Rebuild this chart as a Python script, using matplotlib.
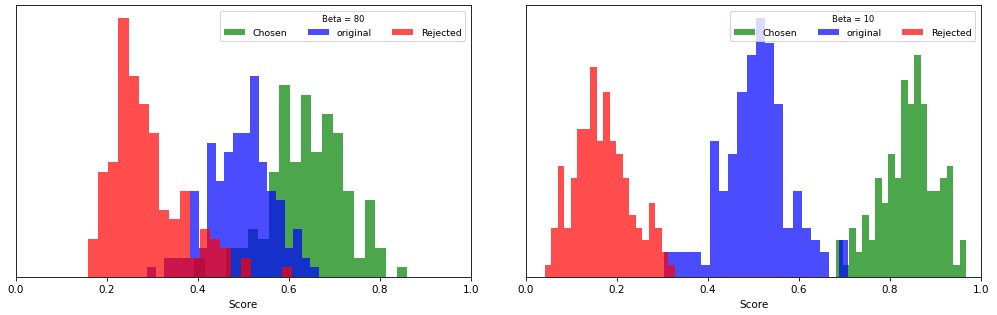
import numpy as np
import matplotlib
matplotlib.use('Agg')
import matplotlib.pyplot as plt

# counts per bin (20 bins per series)
betas = [80, 10]
labels = ['Chosen', 'original', 'Rejected']
colors = ['g', 'b', 'r']

# beta = 80
chosen_80 = [2, 0, 0, 3, 3, 5, 4, 11, 20, 12, 19, 13, 17, 15, 9, 2, 8, 3, 0, 1]
original_80 = [1, 0, 2, 2, 2, 9, 3, 14, 10, 13, 15, 15, 21, 12, 9, 8, 3, 5, 2, 1]
rejected_80 = [4, 11, 12, 27, 21, 18, 15, 7, 6, 9, 2, 5, 4, 3, 0, 2, 0, 0, 0, 1]
range_80 = [(0.392, 0.860), (0.288, 0.666), (0.158, 0.606)]

# beta = 10
chosen_10 = [3, 1, 4, 2, 5, 3, 8, 6, 10, 8, 16, 14, 18, 14, 7, 7, 8, 9, 1, 3]
original_10 = [2, 2, 2, 2, 1, 11, 7, 10, 15, 18, 21, 19, 14, 4, 7, 4, 3, 2, 0, 3]
rejected_10 = [1, 4, 9, 4, 8, 12, 12, 17, 11, 15, 11, 10, 8, 5, 4, 3, 6, 4, 2, 1]
range_10 = [(0.682, 0.967), (0.303, 0.707), (0.041, 0.327)]

panels = [
    ([chosen_80, original_80, rejected_80], range_80),
    ([chosen_10, original_10, rejected_10], range_10),
]

fig, axes = plt.subplots(1, 2, figsize=(997 / 75, 316 / 75), dpi=75)
fig.subplots_adjust(left=0.016, right=0.984, top=0.981, bottom=0.120, wspace=0.121)

for ax, beta, (series, ranges) in zip(axes, betas, panels):
    for counts, (lo, hi), lab, col in zip(series, ranges, labels, colors):
        edges = np.linspace(lo, hi, len(counts) + 1)
        ax.hist(edges[:-1], bins=edges, weights=counts, color=col, alpha=0.7, label=lab)
    ax.set_xlim(0, 1)
    ax.set_yticks([])
    ax.set_xlabel('Score')
    leg = ax.legend(loc='upper right', ncol=3, title=f'Beta = {beta}', fontsize=9,
                    handlelength=2.2, columnspacing=2.2, handletextpad=0.85,
                    borderaxespad=0.6)
    leg.get_title().set_fontsize(8)

fig.savefig('out.png', dpi=75)
